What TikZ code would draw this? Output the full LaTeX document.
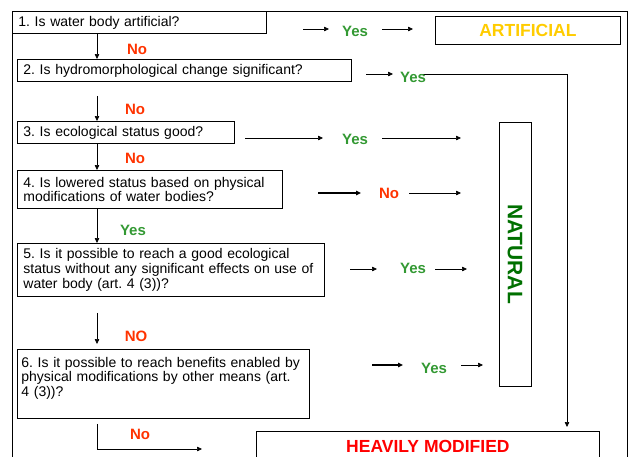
\documentclass[tikz,border=0pt]{standalone}
\usepackage{fontspec}
\setmainfont{Liberation Sans}
\usetikzlibrary{arrows.meta}

\definecolor{nored}{HTML}{FF3300}
\definecolor{yesgreen}{HTML}{339933}
\definecolor{artyellow}{HTML}{FFCC00}
\definecolor{natgreen}{HTML}{007000}
\definecolor{hmred}{HTML}{FF0000}

\tikzset{
	qbox/.style={draw, line width=0.8pt, anchor=north west, align=left,
		inner xsep=6pt, inner ysep=3pt,
		font=\fontsize{14}{14.6}\selectfont\frenchspacing},
	rbox/.style={draw, line width=0.8pt, font=\fontsize{17.5}{18}\selectfont\bfseries},
	ans/.style={inner sep=0pt, font=\fontsize{15}{15}\selectfont\bfseries},
	yes/.style={ans, text=yesgreen},
	no/.style={ans, text=nored},
	arr/.style={-{Triangle[length=5pt, width=4.5pt]}, line width=0.6pt},
	thickarr/.style={arr, line width=1.4pt},
}

\begin{document}
\begin{tikzpicture}[x=1pt, y=-1pt] % 以像素为单位, y 轴向下
	\useasboundingbox (0, 0) rectangle (630, 456);
	\clip (0, 0) rectangle (630, 456);
	% 外框
	\draw[line width=0.8pt] (12, 11) rectangle (627, 490);
	% 左边的问题
	\node[qbox, text width=242pt, minimum height=22pt] (q1) at (12, 11)
		{1. Is water body artificial?};
	\node[qbox, text width=322pt, minimum height=22pt] (q2) at (17, 59)
		{2. Is hydromorphological change significant?};
	\node[qbox, text width=205pt, minimum height=22pt] (q3) at (17, 121)
		{3. Is ecological status good?};
	\node[qbox, text width=253pt, minimum height=38pt] (q4) at (17, 170)
		{4. Is lowered status based on physical\\modifications of water bodies?};
	\node[qbox, text width=295pt, minimum height=53pt] (q5) at (17, 243)
		{5. Is it possible to reach a good ecological\\status without any significant effects on use of\\water body (art. 4 (3))?};
	\node[qbox, inner xsep=4pt, text width=284pt, minimum height=69pt] (q6) at (17, 349)
		{6. Is it possible to reach benefits enabled by\\physical modifications by other means (art.\\4 (3))?\\~};
	% 右边的结论
	\node[rbox, anchor=north west, minimum width=185pt, minimum height=28pt,
		text=artyellow] (art) at (435, 16) {ARTIFICIAL};
	\node[rbox, rotate=-90, minimum width=264pt, minimum height=32pt,
		font=\fontsize{21}{21}\selectfont\bfseries, text=natgreen]
		(nat) at (515, 254) {NATURAL};
	\node[rbox, anchor=north west, minimum width=343pt, minimum height=30pt,
		text=hmred] (hm) at (256, 431) {HEAVILY MODIFIED};
	% 向下的箭头
	\coordinate (vx) at (97, 0);
	\draw[arr] (q1.south -| vx) -- (q2.north -| vx);
	\draw[arr, shorten <=14pt] (q2.south -| vx) -- (q3.north -| vx);
	\draw[arr] (q3.south -| vx) -- (q4.north -| vx);
	\draw[arr] (q4.south -| vx) -- (q5.north -| vx);
	\draw[arr, shorten <=16pt, shorten >=5pt] (q5.south -| vx) -- (q6.north -| vx);
	\coordinate (hmin) at (202, 449);
	\draw[arr, shorten <=5pt] (q6.south -| vx) |- (hmin);
	\node[no] (n1) at (137, 49) {No};
	\node[no] (n2) at (135, 109) {No};
	\node[no] (n3) at (135, 158) {No};
	\node[yes] (y4) at (133, 230) {Yes};
	\node[no] (n5) at (136, 336) {NO};
	\node[no] (n6) at (140, 434) {No};
	% 向右的箭头
	\foreach \n/\y/\xa/\xb in {1a/29/303/329, 1b/29/382/413, 2a/74/366/393,
		3a/138/245/323, 3b/138/382/461, 4b/193/409/461,
		5a/269/350/377, 5b/269/435/467, 6b/365/461/483} {
		\coordinate (s\n) at (\xa, \y);
		\coordinate (e\n) at (\xb, \y);
		\draw[arr] (s\n) -- (e\n);
	}
	\foreach \n/\y/\xa/\xb in {4a/193/318/361, 6a/365/372/403} {
		\coordinate (s\n) at (\xa, \y);
		\coordinate (e\n) at (\xb, \y);
		\draw[thickarr] (s\n) -- (e\n);
	}
	\coordinate (s2b) at (420, 74);
	\coordinate (bend) at (567, 74);
	\draw[arr, shorten >=4pt] (s2b) -- (bend) -- (hm.north -| bend);
	\node[yes] (y1) at (355, 31) {Yes};
	\node[yes] (y2) at (413, 77) {Yes};
	\node[yes] (y3) at (355, 139) {Yes};
	\node[no] (n4) at (389, 193) {No};
	\node[yes] (y5) at (413, 268) {Yes};
	\node[yes] (y6) at (434, 368) {Yes};
\end{tikzpicture}
\end{document}
